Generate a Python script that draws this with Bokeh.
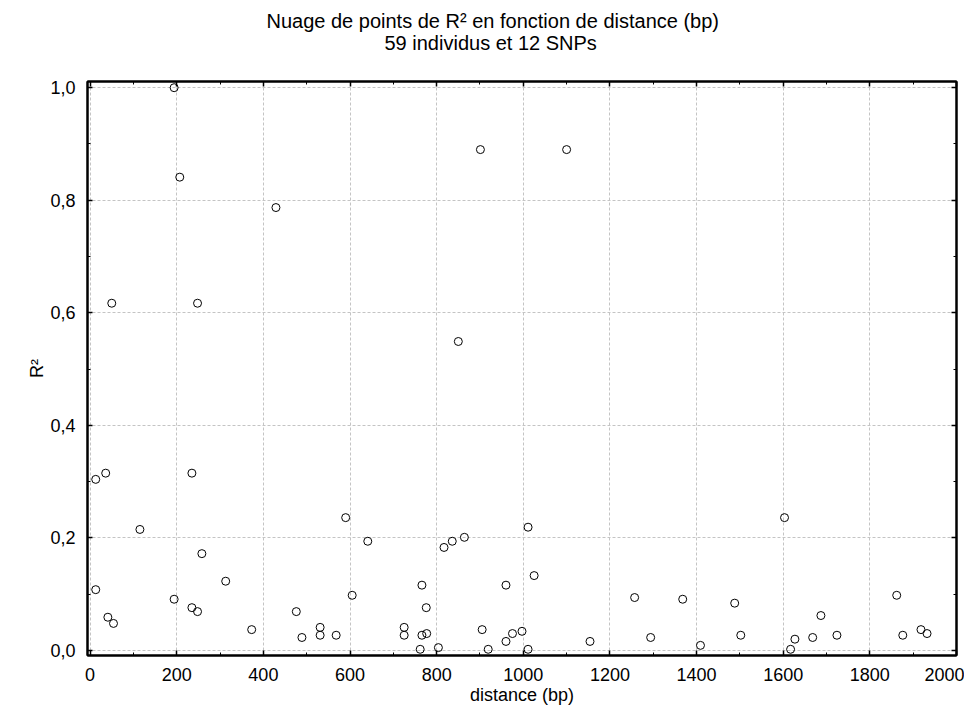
from bokeh.plotting import figure
from bokeh.models import Range1d, FixedTicker, LinearAxis, Title, CustomJSTickFormatter
from bokeh.embed import file_html
from bokeh.resources import INLINE

distance = [13, 13, 36, 41, 50, 54, 115, 194, 194, 207,
            235, 235, 248, 248, 258, 313, 373, 429, 476, 489,
            531, 531, 568, 590, 605, 641, 725, 725, 762, 766,
            766, 776, 777, 804, 817, 836, 850, 864, 901, 905,
            919, 960, 960, 975, 997, 1011, 1011, 1025, 1100, 1154,
            1257, 1294, 1368, 1409, 1488, 1502, 1603, 1617, 1627, 1668,
            1687, 1724, 1862, 1876, 1918, 1932]
r2 = [0.304, 0.108, 0.315, 0.059, 0.617, 0.048, 0.215, 1.000, 0.091, 0.841,
      0.315, 0.076, 0.617, 0.069, 0.172, 0.123, 0.037, 0.787, 0.069, 0.023,
      0.041, 0.027, 0.027, 0.236, 0.098, 0.194, 0.041, 0.027, 0.002, 0.116,
      0.027, 0.076, 0.030, 0.005, 0.183, 0.194, 0.549, 0.201, 0.890, 0.037,
      0.002, 0.116, 0.016, 0.030, 0.034, 0.219, 0.002, 0.133, 0.890, 0.016,
      0.094, 0.023, 0.091, 0.009, 0.084, 0.027, 0.236, 0.002, 0.020, 0.023,
      0.062, 0.027, 0.098, 0.027, 0.037, 0.030]

x_ticks = [0, 200, 400, 600, 800, 1000, 1200, 1400, 1600, 1800, 2000]
x_minor = list(range(0, 2001, 100))
y_ticks = [0.0, 0.2, 0.4, 0.6, 0.8, 1.0]
y_minor = [0.0, 0.1, 0.2, 0.3, 0.4, 0.5, 0.6, 0.7, 0.8, 0.9, 1.0]

title_line1 = "Nuage de points de R² en fonction de distance (bp)"
title_line2 = "59 individus et 12 SNPs"
x_label = "distance (bp)"
y_label = "R²"

FONT = "Liberation Sans"

p = figure(width=964, height=710, output_backend="svg", toolbar_location=None,
           x_range=Range1d(-6, 2000), y_range=Range1d(-0.009, 1.011),
           min_border_left=87, min_border_right=8, min_border_top=81,
           min_border_bottom=55)
p.background_fill_color = "white"
p.border_fill_color = "white"
p.outline_line_color = "black"
p.outline_line_width = 2

xt = FixedTicker(ticks=x_ticks, minor_ticks=x_minor)
yt = FixedTicker(ticks=y_ticks, minor_ticks=y_minor)
yfmt = CustomJSTickFormatter(code="return tick.toFixed(1).replace('.', ',');")
blank = CustomJSTickFormatter(code="return '';")

p.xaxis.ticker = xt
p.yaxis.ticker = yt
p.yaxis.formatter = yfmt

for ax in (p.xaxis[0], p.yaxis[0]):
    ax.axis_line_color = "black"
    ax.axis_line_width = 2
    ax.major_tick_in = 5
    ax.major_tick_out = 0
    ax.minor_tick_in = 3
    ax.minor_tick_out = 0
    ax.major_tick_line_width = 1.5
    ax.major_label_text_font = FONT
    ax.major_label_text_font_size = "18px"
    ax.major_label_text_color = "black"
    ax.axis_label_text_font = FONT
    ax.axis_label_text_font_size = "18px"
    ax.axis_label_text_font_style = "normal"
    ax.axis_label_text_color = "black"

p.xaxis.axis_label = x_label
p.yaxis.axis_label = y_label
p.xaxis.major_label_standoff = 12
p.xaxis.axis_label_standoff = 1
p.yaxis.major_label_standoff = 12
p.yaxis.axis_label_standoff = 0

top_ax = LinearAxis(ticker=xt, formatter=blank)
right_ax = LinearAxis(ticker=yt, formatter=blank)
for ax in (top_ax, right_ax):
    ax.axis_line_color = "black"
    ax.axis_line_width = 2
    ax.major_tick_in = 5
    ax.major_tick_out = 0
    ax.minor_tick_in = 3
    ax.minor_tick_out = 0
    ax.major_tick_line_width = 1.5
    ax.major_label_standoff = 0
p.add_layout(top_ax, "above")
p.add_layout(right_ax, "right")

p.xgrid.ticker = xt
p.ygrid.ticker = yt
for g in (p.xgrid[0], p.ygrid[0]):
    g.grid_line_color = "#c4c4c4"
    g.grid_line_dash = "3 2"
    g.grid_line_width = 1

p.scatter(distance, r2, marker="circle", size=8, fill_color=None,
          line_color="black", line_width=1)

t2 = Title(text=title_line2, align="left", offset=297, text_font=FONT,
           text_font_size="20px", text_font_style="normal", text_color="black",
           standoff=56)
t1 = Title(text=title_line1, align="left", offset=179, text_font=FONT,
           text_font_size="20px", text_font_style="normal", text_color="black",
           standoff=-60)
p.add_layout(t2, "above")
p.add_layout(t1, "above")

open("out.html", "w").write(file_html(p, INLINE))
